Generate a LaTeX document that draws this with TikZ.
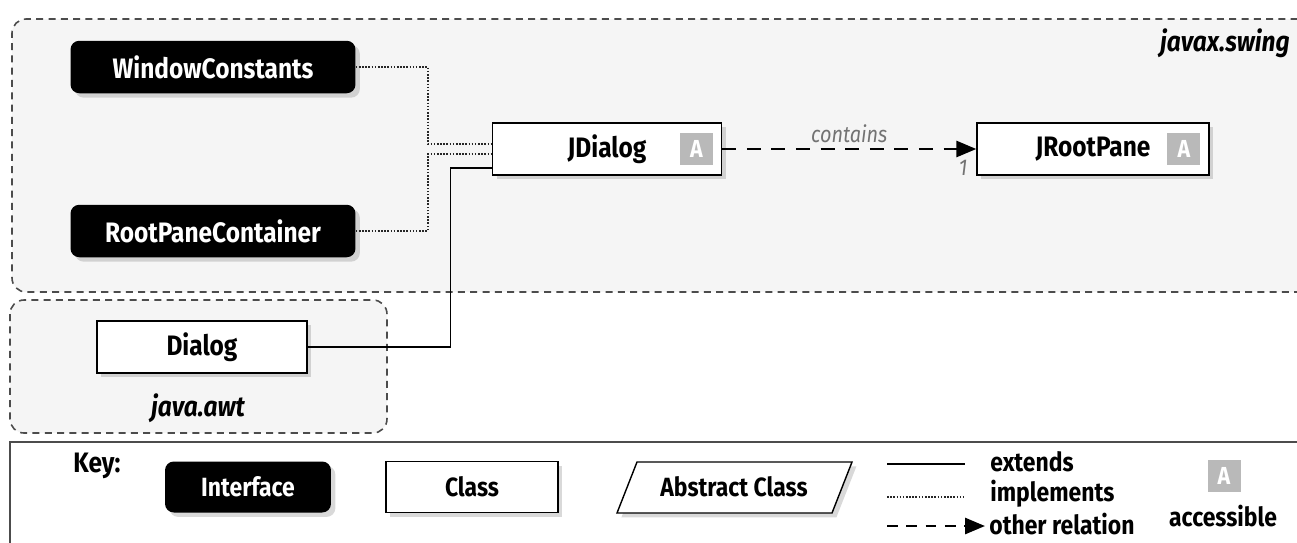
\documentclass[tikz,border=0pt]{standalone}
\usepackage{fontspec}
\setmainfont{Fira Sans}[FakeStretch=0.87]
\usepackage{xcolor}
\usepackage{tikz}
\usetikzlibrary{calc,arrows.meta,positioning,shadows}
\definecolor{pkgfill}{RGB}{245,245,245}
\definecolor{badgegray}{RGB}{185,185,185}

\begin{document}
\begin{tikzpicture}[x=0.02cm,y=-0.02cm,>=Triangle,
     boxshadow/.style={drop shadow={shadow xshift=2.5pt,shadow yshift=-2.5pt,opacity=.3}},
     iface/.style={rectangle,rounded corners=5pt,fill=black,text=white,minimum width=5.7cm,minimum height=1.05cm,inner sep=0pt,font=\fontsize{16}{18}\selectfont\bfseries,boxshadow},
     cls/.style={rectangle,draw=black,line width=0.8pt,fill=white,minimum height=1.04cm,inner sep=0pt,font=\fontsize{16}{18}\selectfont\bfseries,boxshadow},
     badge/.style={rectangle,fill=badgegray,text=white,minimum width=0.66cm,minimum height=0.64cm,inner sep=0pt,font=\fontsize{14}{16}\selectfont\bfseries},
     keytext/.style={font=\fontsize{15}{17}\selectfont\bfseries,inner sep=0pt},
     pkg/.style={font=\fontsize{16}{18}\selectfont\bfseries\itshape,inner sep=0pt},
     pkgbox/.style={dashed,dash pattern=on 4pt off 3pt,line width=0.9pt,draw=black!70,rounded corners=8pt},
     extends/.style={line width=0.8pt},
     implements/.style={line width=0.9pt,dash pattern=on 0.9pt off 0.9pt,draw=black!85},
     relation/.style={line width=1.6pt,dash pattern=on 8pt off 6pt,-{Triangle[length=4mm,width=3.2mm]}},
     lbl/.style={font=\fontsize{13}{15}\selectfont\itshape,text=black!55,inner sep=2pt}]
  \useasboundingbox (0,0) rectangle (1297,542);
  % package regions
  \fill[pkgfill,rounded corners=8pt] (1310,19) -- (12,19) -- (12,292) -- (1310,292);
  \draw[pkgbox] (1310,19) -- (12,19) -- (12,292) -- (1310,292);
  \fill[pkgfill,rounded corners=8pt] (10,300) rectangle (387,433);
  \draw[pkgbox] (10,300) rectangle (387,433);
  \node[pkg,anchor=east] (swing) at (1290,43) {javax.swing};
  \node[pkg] (awt) at (198,408) {java.awt};
  % classes and interfaces
  \node[iface] (wc) at (213,67) {WindowConstants};
  \node[iface] (rpc) at (213,231) {RootPaneContainer};
  \node[cls,minimum width=4.58cm] (jdialog) at (607,149) {JDialog};
  \node[badge,left=0.18cm of jdialog.east] (jdbadge) {A};
  \node[cls,minimum width=4.64cm] (jrootpane) at (1093,149) {JRootPane};
  \node[badge,left=0.18cm of jrootpane.east] (jrbadge) {A};
  \node[cls,minimum width=4.2cm] (dialog) at (202,347) {Dialog};
  % relations
  \draw[implements] (wc.east) -- ++(72,0) |- ([yshift=0.1cm]jdialog.west);
  \draw[implements] (rpc.east) -- ++(72,0) |- ([yshift=-0.1cm]jdialog.west);
  \draw[extends] (dialog.east) -- ++(143,0) |- ([yshift=-0.38cm]jdialog.west);
  \draw[relation] (jdialog.east) -- node[lbl,above=1pt] (contains) {contains} (jrootpane.west);
  \node[lbl,anchor=north east] (mult) at ([xshift=-0.1cm,yshift=-0.15cm]jrootpane.west) {1};
  % key
  \draw[line width=1.3pt,draw=black!70] (10,548) -- (10,442) -- (1310,442);
  \node[keytext,font=\fontsize{16}{18}\selectfont\bfseries] (key) at (97,466) {Key:};
  \node[iface,minimum width=3.32cm,minimum height=1.02cm,font=\fontsize{15}{17}\selectfont\bfseries] (kiface) at (248,487) {Interface};
  \node[cls,minimum width=3.44cm,minimum height=1.02cm,font=\fontsize{15}{17}\selectfont\bfseries] (kclass) at (472,487) {Class};
  \draw[line width=0.8pt,fill=white,boxshadow] (617,513) -- (637,462) -- (852,462) -- (832,513) -- cycle;
  \node[keytext] (kabs) at (734,487) {Abstract Class};
  \coordinate (e1) at (887,464);
  \coordinate (e2) at (965,464);
  \draw[extends] (e1) -- (e2);
  \node[keytext,anchor=west] (kext) at (990,462) {extends};
  \coordinate (i1) at (887,497);
  \coordinate (i2) at (965,497);
  \draw[implements] (i1) -- (i2);
  \node[keytext,anchor=west] (kimpl) at (990,494) {implements};
  \coordinate (r1) at (887,526);
  \coordinate (r2) at (985,526);
  \draw[relation,dash pattern=on 6pt off 5pt] (r1) -- (r2);
  \node[keytext,anchor=west] (krel) at (989,524) {other relation};
  \node[badge] (kbadge) at (1224,476) {A};
  \node[keytext] (kacc) at (1223,516) {accessible};
\end{tikzpicture}
\end{document}
